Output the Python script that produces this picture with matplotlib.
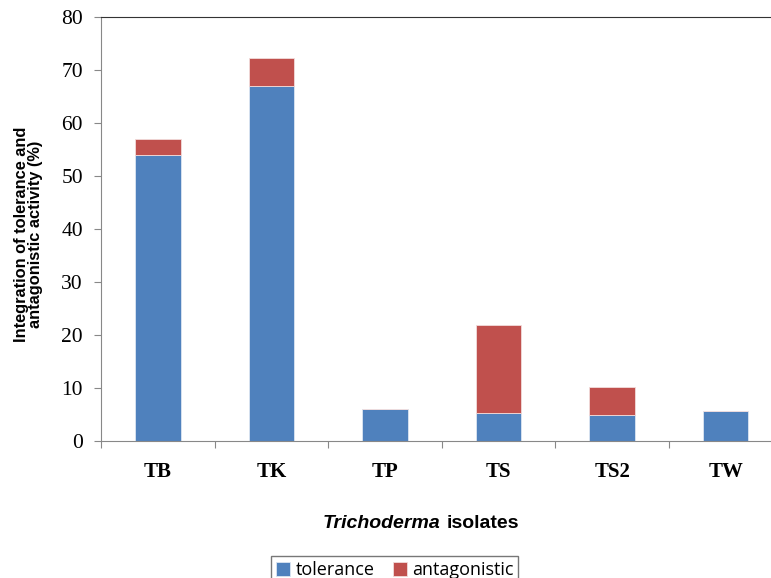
import numpy as np
import matplotlib.pyplot as plt

isolates = ['TB', 'TK', 'TP', 'TS', 'TS2', 'TW']
tolerance = [54.0, 67.0, 6.1, 5.3, 5.0, 5.7]
antagonistic = [2.9, 5.3, 0.0, 16.5, 5.1, 0.0]

blue = '#4F81BD'
red = '#C0504D'

fig = plt.figure(figsize=(7.71, 5.78), dpi=100)
ax = fig.add_axes([0.1310, 0.237, 0.884, 0.7336])

x = np.arange(len(isolates))
ax.bar(x, tolerance, width=0.4, color=blue, edgecolor='#dce6f2', linewidth=0.6, label='tolerance')
ax.bar(x, antagonistic, width=0.4, bottom=tolerance, color=red, edgecolor='#f2dcdb', linewidth=0.6,
       label='antagonistic')

ax.set_xlim(-0.5, 5.5)
ax.set_ylim(0, 80)
ax.set_yticks(range(0, 81, 10))
ax.set_yticklabels([str(v) for v in range(0, 81, 10)], fontfamily='Liberation Serif', fontsize=15.5)

# category labels between boundary ticks
ax.set_xticks(np.arange(-0.5, 5.6, 1.0))
ax.set_xticklabels([])
ax.set_xticks(x, minor=True)
ax.set_xticklabels(isolates, minor=True, fontfamily='Liberation Serif', fontweight='bold', fontsize=15)
ax.tick_params(axis='x', which='minor', length=0, pad=15)
ax.tick_params(axis='x', which='major', length=5, color='#888888', direction='out')
ax.tick_params(axis='y', length=5, color='#888888', direction='out', pad=8)

for s in ['left', 'bottom']:
    ax.spines[s].set_color('#888888')
ax.spines['top'].set_color('#333333')
ax.spines['right'].set_visible(False)

fig.text(0.037, 0.595, 'Integration of tolerance and\nantagonistic activity (%)', rotation=90,
         ha='center', va='center', fontfamily='Liberation Sans', fontweight='bold', fontsize=11.8,
         linespacing=0.95)

fig.text(0.571, 0.095, 'Trichoderma', ha='right', va='center', fontfamily='Liberation Sans',
         fontweight='bold', fontstyle='italic', fontsize=14)
fig.text(0.579, 0.095, 'isolates', ha='left', va='center', fontfamily='Liberation Sans',
         fontweight='bold', fontsize=14)

leg = fig.legend(loc='upper center', bbox_to_anchor=(0.512, 0.053), ncol=2, frameon=True,
                 fancybox=False, edgecolor='#555555', prop={'family': 'Open Sans', 'size': 13},
                 handlelength=0.8, handleheight=0.8, handletextpad=0.3, columnspacing=1.0,
                 borderpad=0.25)
leg.get_frame().set_linewidth(1.0)

fig.savefig('out.png', dpi=100)
